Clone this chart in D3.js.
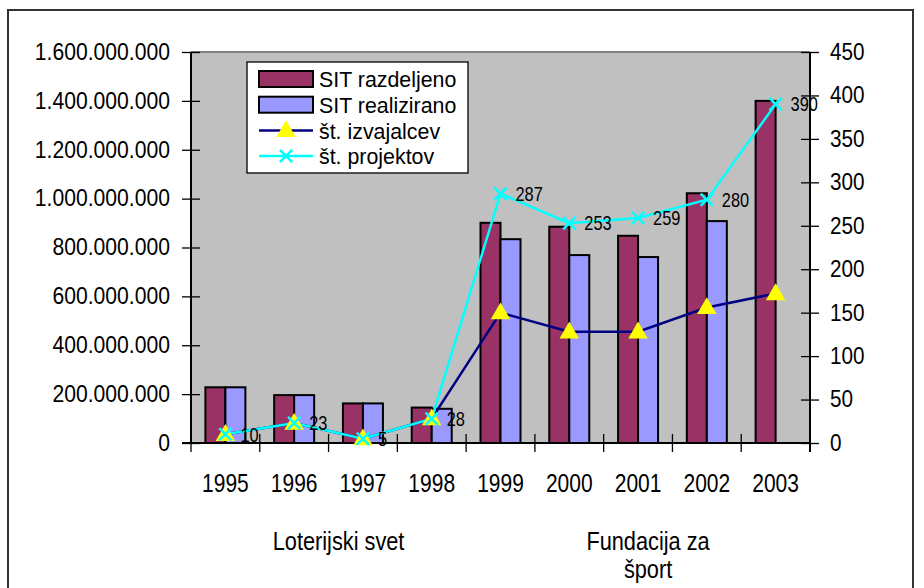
<!DOCTYPE html>
<html>
  <head>
    <meta charset="utf-8">
    <title>SIT razdeljeno / realizirano</title>
    <script src="https://d3js.org/d3.v7.min.js"></script>
    <style>
      body { margin: 0; background: #fff; }
      text { font-family: "Liberation Sans", Arial, sans-serif; fill: #000; }
    </style>
  </head>
  <body>
    <div id="chart"></div>
    <script>
      const years = ["1995", "1996", "1997", "1998", "1999", "2000", "2001", "2002", "2003"];
      const razdeljeno = [228e6, 196e6, 162e6, 145e6, 901e6, 885e6, 848e6, 1022e6, 1400e6];
      const realizirano = [228e6, 196e6, 162e6, 140e6, 834e6, 769e6, 761e6, 908e6, null];
      const izvajalcev = [10, 23, 5, 28, 150, 128, 128, 156, 172];
      const projektov = [10, 23, 5, 28, 287, 253, 259, 280, 390];
      const leftTicks = [0, 2e8, 4e8, 6e8, 8e8, 1e9, 1.2e9, 1.4e9, 1.6e9];
      const rightTicks = [0, 50, 100, 150, 200, 250, 300, 350, 400, 450];
      const groups = [
        { label: ["Loterijski svet"], from: "1995", to: "1998" },
        { label: ["Fundacija za", "šport"], from: "1999", to: "2003" }
      ];

      const width = 924, height = 588;
      const plot = { left: 191, right: 810, top: 52, bottom: 443 };

      // the original font is a condensed Arial: squeeze text horizontally
      function squeeze(sel, sx) {
        sel.each(function () {
          const t = d3.select(this);
          const x0 = +t.attr("x") || 0;
          t.attr("x", x0 / sx).attr("transform", "scale(" + sx + ",1)");
          t.selectAll("tspan").each(function () {
            const s = d3.select(this);
            if (s.attr("x") != null) s.attr("x", +s.attr("x") / sx);
          });
        });
      }

      const svg = d3.select("#chart").append("svg")
        .attr("width", width)
        .attr("height", height);

      // outer frame
      svg.append("rect")
        .attr("x", 8).attr("y", 10)
        .attr("width", 905).attr("height", 590)
        .attr("fill", "none").attr("stroke", "#333").attr("stroke-width", 2);

      const x = d3.scaleBand().domain(years).range([plot.left, plot.right]);
      const yL = d3.scaleLinear().domain([0, 1.6e9]).range([plot.bottom, plot.top]);
      const yR = d3.scaleLinear().domain([0, 450]).range([plot.bottom, plot.top]);

      const loc = d3.formatLocale({ decimal: ",", thousands: ".", grouping: [3], currency: ["", ""] });
      const fmt = loc.format(",");

      // plot area
      svg.append("rect")
        .attr("x", plot.left).attr("y", plot.top)
        .attr("width", plot.right - plot.left).attr("height", plot.bottom - plot.top)
        .attr("fill", "#c0c0c0");
      svg.append("line")
        .attr("x1", plot.left).attr("x2", plot.right)
        .attr("y1", plot.top).attr("y2", plot.top)
        .attr("stroke", "#808080").attr("stroke-width", 2);

      // bars
      const bw = 20;
      const cx = d => x(d) + x.bandwidth() / 2;
      svg.append("g").selectAll("rect")
        .data(years.map((y, i) => ({ y, v: razdeljeno[i] })))
        .join("rect")
        .attr("x", d => cx(d.y) - bw)
        .attr("y", d => yL(d.v))
        .attr("width", bw)
        .attr("height", d => yL(0) - yL(d.v))
        .attr("fill", "#993366").attr("stroke", "#000").attr("stroke-width", 2);
      svg.append("g").selectAll("rect")
        .data(years.map((y, i) => ({ y, v: realizirano[i] })).filter(d => d.v != null))
        .join("rect")
        .attr("x", d => cx(d.y))
        .attr("y", d => yL(d.v))
        .attr("width", bw)
        .attr("height", d => yL(0) - yL(d.v))
        .attr("fill", "#9999ff").attr("stroke", "#000").attr("stroke-width", 2);

      // left axis
      const gl = svg.append("g")
        .attr("transform", "translate(" + plot.left + ",0)")
        .call(d3.axisLeft(yL).tickValues(leftTicks).tickFormat(fmt).tickSize(9).tickPadding(12));
      gl.selectAll(".tick line").attr("x1", 9).attr("stroke", "#000").attr("stroke-width", 1.3);
      gl.select(".domain").attr("stroke", "#000").attr("stroke-width", 2).attr("d", "M0," + plot.top + "V" + plot.bottom);
      gl.selectAll(".tick text").attr("font-size", 23).attr("font-family", null).call(squeeze, 0.92);

      // right axis
      const gr = svg.append("g")
        .attr("transform", "translate(" + plot.right + ",0)")
        .call(d3.axisRight(yR).tickValues(rightTicks).tickSize(9).tickPadding(11));
      gr.selectAll(".tick line").attr("x1", -9).attr("stroke", "#000").attr("stroke-width", 1.3);
      gr.select(".domain").attr("stroke", "#000").attr("stroke-width", 2).attr("d", "M0," + plot.top + "V" + (plot.bottom + 9));
      gr.selectAll(".tick text").attr("font-size", 23).attr("font-family", null).call(squeeze, 0.9);

      // bottom axis
      const gb = svg.append("g")
        .attr("transform", "translate(0," + plot.bottom + ")")
        .call(d3.axisBottom(x).tickSize(0).tickPadding(0));
      gb.select(".domain").remove();
      gb.selectAll(".tick text")
        .attr("font-family", null)
        .attr("font-size", 25)
        .attr("dy", null)
        .attr("y", 49)
        .call(squeeze, 0.84);
      svg.append("line")
        .attr("x1", plot.left - 9).attr("x2", plot.right)
        .attr("y1", plot.bottom).attr("y2", plot.bottom)
        .attr("stroke", "#000").attr("stroke-width", 2);
      const bounds = years.map(d => x(d)).concat([plot.right]);
      svg.append("g").selectAll("line")
        .data(bounds)
        .join("line")
        .attr("x1", d => d).attr("x2", d => d)
        .attr("y1", plot.bottom - 9).attr("y2", plot.bottom + 9)
        .attr("stroke", "#000").attr("stroke-width", 1.3);

      // group labels under categories
      groups.forEach(g => {
        const mid = (x(g.from) + x(g.to) + x.bandwidth()) / 2 + 10;
        const t = svg.append("text")
          .attr("text-anchor", "middle")
          .attr("font-size", 25)
          .attr("x", mid).attr("y", 550);
        g.label.forEach((s, i) => t.append("tspan").attr("x", mid).attr("dy", i ? 28 : 0).text(s));
        t.call(squeeze, 0.87);
      });

      // lines
      const line = (arr, sc) => d3.line().x((d, i) => cx(years[i])).y(d => sc(d))(arr);
      svg.append("path").attr("d", line(izvajalcev, yR))
        .attr("fill", "none").attr("stroke", "#000080").attr("stroke-width", 2.5);
      svg.append("path").attr("d", line(projektov, yR))
        .attr("fill", "none").attr("stroke", "#00ffff").attr("stroke-width", 2.5);

      const tri = d3.symbol().type(d3.symbolTriangle).size(165);
      svg.append("g").selectAll("path")
        .data(izvajalcev)
        .join("path")
        .attr("d", tri)
        .attr("transform", (d, i) => "translate(" + cx(years[i]) + "," + (yR(d) + 1) + ")")
        .attr("fill", "#ffff00");

      const cross = d3.symbol().type(d3.symbolX).size(100);
      svg.append("g").selectAll("path")
        .data(projektov)
        .join("path")
        .attr("d", cross)
        .attr("transform", (d, i) => "translate(" + cx(years[i]) + "," + yR(d) + ")")
        .attr("fill", "none").attr("stroke", "#00ffff").attr("stroke-width", 2.5);

      svg.append("g").selectAll("text")
        .data(projektov)
        .join("text")
        .attr("font-size", 20)
        .attr("x", (d, i) => cx(years[i]) + 15)
        .attr("y", d => yR(d))
        .attr("dy", "0.36em")
        .text(d => d)
        .call(squeeze, 0.82);

      // legend
      const lg = svg.append("g").attr("transform", "translate(247,62)");
      lg.append("rect").attr("width", 221).attr("height", 111)
        .attr("fill", "#fff").attr("stroke", "#000").attr("stroke-width", 1.3);
      const items = [
        { name: "SIT razdeljeno", type: "bar", color: "#993366" },
        { name: "SIT realizirano", type: "bar", color: "#9999ff" },
        { name: "št. izvajalcev", type: "tri", color: "#000080" },
        { name: "št. projektov", type: "x", color: "#00ffff" }
      ];
      items.forEach((it, i) => {
        const yy = 17 + i * 25.7;
        if (it.type === "bar") {
          lg.append("rect").attr("x", 12).attr("y", yy - 8).attr("width", 54).attr("height", 16)
            .attr("fill", it.color).attr("stroke", "#000").attr("stroke-width", 2);
        } else {
          lg.append("line").attr("x1", 12).attr("x2", 66).attr("y1", yy).attr("y2", yy)
            .attr("stroke", it.color).attr("stroke-width", 2.5);
          if (it.type === "tri") {
            lg.append("path").attr("d", tri).attr("transform", "translate(39," + (yy + 1) + ")").attr("fill", "#ffff00");
          } else {
            lg.append("path").attr("d", cross).attr("transform", "translate(39," + yy + ")")
              .attr("fill", "none").attr("stroke", "#00ffff").attr("stroke-width", 2.5);
          }
        }
        lg.append("text").attr("x", 72).attr("y", yy).attr("dy", "0.36em")
          .attr("font-size", 23).text(it.name).call(squeeze, 0.93);
      });
    </script>
  </body>
</html>
